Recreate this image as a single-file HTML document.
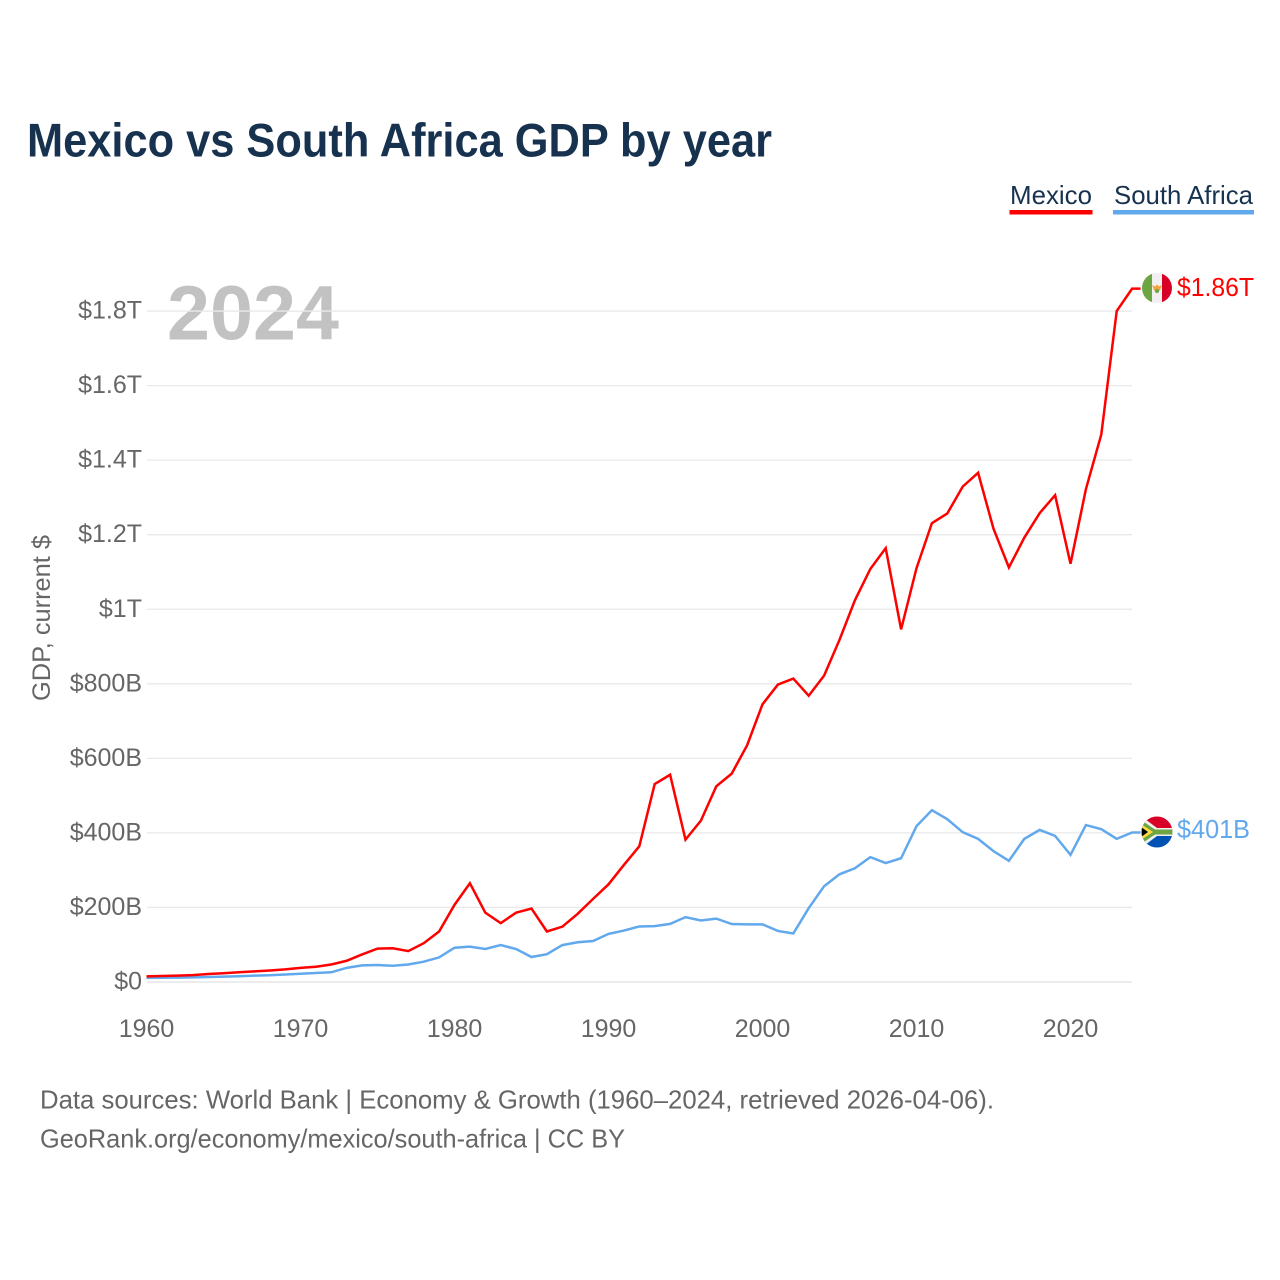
<!DOCTYPE html>
<html lang="en">
<head>
<meta charset="utf-8">
<title>Mexico vs South Africa GDP by year</title>
<style>
html,body{margin:0;padding:0;background:#fff;}
svg{display:block;font-family:"Liberation Sans",sans-serif;}
</style>
</head>
<body>
<svg id="chart" width="1280" height="1280" viewBox="0 0 1280 1280" xmlns="http://www.w3.org/2000/svg">
  <defs>
    <clipPath id="flag-clip-mx"><circle cx="1157" cy="288" r="15"/></clipPath>
    <clipPath id="flag-clip-za"><circle cx="1157" cy="832" r="15.5"/></clipPath>
  </defs>
  <rect x="0" y="0" width="1280" height="1280" fill="#fff"/>
  <text x="27" y="156.5" font-size="47" font-weight="700" fill="#17324f" textLength="745" lengthAdjust="spacingAndGlyphs">Mexico vs South Africa GDP by year</text>

  <g>
    <text x="1010" y="204" font-size="26" fill="#17324f" textLength="82" lengthAdjust="spacingAndGlyphs">Mexico</text>
    <rect x="1009.5" y="210" width="83" height="4.5" fill="#ff0000"/>
  </g>
  <g>
    <text x="1114" y="204" font-size="26" fill="#17324f" textLength="139" lengthAdjust="spacingAndGlyphs">South Africa</text>
    <rect x="1113" y="210" width="141" height="4.5" fill="#62a8ec"/>
  </g>

  <text x="167" y="339.5" font-size="77" font-weight="700" fill="#c2c2c2" textLength="172" lengthAdjust="spacingAndGlyphs">2024</text>

  <g id="grid"></g>
  <g id="y-ticks"></g>
  <g id="x-ticks"></g>
  <text transform="translate(50,701) rotate(-90)" x="0" y="0" font-size="25" fill="#666" textLength="166" lengthAdjust="spacingAndGlyphs">GDP, current $</text>

  <g id="series"></g>

  <g clip-path="url(#flag-clip-mx)">
    <rect x="1142" y="273" width="10" height="30" fill="#6da544"/>
    <rect x="1152" y="273" width="10" height="30" fill="#f0f0f0"/>
    <rect x="1162" y="273" width="10" height="30" fill="#d80027"/>
    <path d="M1152 285 L1155 286.5 L1157 284.5 L1159 286.5 L1162 285 L1160 290 L1157 293.5 L1154 290 Z" fill="#f2a33a"/>
    <circle cx="1157" cy="291" r="2" fill="#6da544"/>
  </g>
  <g clip-path="url(#flag-clip-za)">
    <rect x="1141" y="816" width="32" height="16" fill="#d80027"/>
    <rect x="1141" y="832" width="32" height="16" fill="#0052b4"/>
    <path d="M1141 816 L1157 828 H1173 V836 H1157 L1141 848 Z" fill="#f0f0f0"/>
    <path d="M1141 820 L1155 829.5 H1173 V834.5 H1155 L1141 844 Z" fill="#6da544"/>
    <path d="M1141 824 L1153 832 L1141 840 Z" fill="#ffda44"/>
    <path d="M1141 827 L1148 832 L1141 837 Z" fill="#000"/>
  </g>

  <text id="label-mx" x="1177" y="296" font-size="25.5" fill="#ff0000" textLength="77" lengthAdjust="spacingAndGlyphs">$1.86T</text>
  <text id="label-za" x="1177" y="838" font-size="25.5" fill="#62a8ec" textLength="73" lengthAdjust="spacingAndGlyphs">$401B</text>

  <text x="40" y="1108.5" font-size="26" fill="#666" textLength="954" lengthAdjust="spacingAndGlyphs">Data sources: World Bank | Economy &amp; Growth (1960–2024, retrieved 2026-04-06).</text>
  <text x="40" y="1147.5" font-size="26" fill="#666" textLength="585" lengthAdjust="spacingAndGlyphs">GeoRank.org/economy/mexico/south-africa | CC BY</text>
</svg>
<script>
var startYear = 1960;
var mexicoGdp = [15, 16, 17, 18.5, 21.5, 23.5, 26, 28.5, 31, 34, 38, 41, 47, 57, 74, 89.5, 90.5, 83, 104, 135.5, 207, 265, 186, 158, 186, 197, 135.5, 148.5, 183, 223, 262, 314, 364, 531, 556, 382, 433, 525, 559, 635, 745, 798, 814, 768, 822, 918, 1024, 1108, 1164, 946, 1110, 1231, 1257, 1329, 1366, 1216, 1112, 1192, 1258, 1306, 1122, 1322, 1469, 1800, 1860];
var southAfricaGdp = [11, 11.3, 11.7, 12.5, 13.5, 14.5, 15.5, 17, 18, 20, 22, 24, 26, 38, 44.5, 45.5, 43.5, 47, 54.5, 66, 92, 95, 88.5, 99, 88.5, 67, 74.5, 99, 106.5, 110, 129, 138, 149, 150, 156, 174, 165, 170, 155.5, 154.5, 154.5, 137, 130, 198, 257, 289, 305, 335, 319, 332, 418, 461, 437, 402, 384, 351, 325, 384, 408, 392, 341, 421, 410, 384, 401];
var yTickValues = [0, 200, 400, 600, 800, 1000, 1200, 1400, 1600, 1800];
var yTickLabels = ["$0", "$200B", "$400B", "$600B", "$800B", "$1T", "$1.2T", "$1.4T", "$1.6T", "$1.8T"];
var xTickYears = [1960, 1970, 1980, 1990, 2000, 2010, 2020];

var NS = "http://www.w3.org/2000/svg";
function xScale(year) { return 146.5 + (year - 1960) * 15.4; }
function yScale(v) { return 982 - v * 0.37275; }
function make(tag, attrs, parent) {
  var el = document.createElementNS(NS, tag);
  for (var k in attrs) el.setAttribute(k, attrs[k]);
  parent.appendChild(el);
  return el;
}

var gridG = document.getElementById("grid");
var yG = document.getElementById("y-ticks");
var xG = document.getElementById("x-ticks");
var seriesG = document.getElementById("series");

yTickValues.forEach(function (v, i) {
  var y = yScale(v);
  var line = make("line", { x1: 147, x2: 1132, y1: y, y2: y, stroke: v === 0 ? "#e6e6e6" : "#e9e9e9", "stroke-width": v === 0 ? 1.5 : 1.3 }, gridG);
  
  
  var t = make("text", { x: 142, y: y + 7.5, "text-anchor": "end", "font-size": 25, fill: "#666" }, yG);
  
  
  t.textContent = yTickLabels[i];
});

xTickYears.forEach(function (yr) {
  var t = make("text", { x: xScale(yr), y: 1037, "text-anchor": "middle", "font-size": 25, fill: "#666" }, xG);
  
  
  t.textContent = yr;
});

function pathFor(values) {
  var pts = values.map(function (v, i) {
    return xScale(startYear + i).toFixed(2) + "," + yScale(v).toFixed(2);
  });
  var last = values.length - 1;
  pts.push((xScale(startYear + last) + 8.5).toFixed(2) + "," + yScale(values[last]).toFixed(2));
  return "M" + pts.join(" L");
}

var blueLine = make("path", { d: pathFor(southAfricaGdp), fill: "none", stroke: "#62a8ec", "stroke-width": 2.5, "stroke-linejoin": "miter" }, seriesG);


var redLine = make("path", { d: pathFor(mexicoGdp), fill: "none", stroke: "#ff0000", "stroke-width": 2.5, "stroke-linejoin": "miter" }, seriesG);


</script>
</body>
</html>
